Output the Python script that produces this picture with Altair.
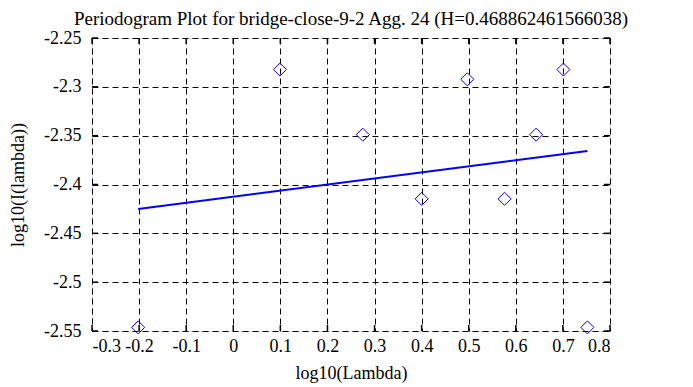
import altair as alt
import pandas as pd

# Periodogram points
lam_x = [-0.202, 0.099, 0.275, 0.400, 0.497, 0.576, 0.643, 0.701, 0.752]
lam_y = [-2.5463, -2.2823, -2.349, -2.4147, -2.2923, -2.4147, -2.349, -2.2823, -2.5463]

# Fitted line endpoints
fit_x = [-0.202, 0.752]
fit_y = [-2.425, -2.3657]

x_ticks = [-0.3, -0.2, -0.1, 0, 0.1, 0.2, 0.3, 0.4, 0.5, 0.6, 0.7, 0.8]
y_ticks = [-2.55, -2.5, -2.45, -2.4, -2.35, -2.3, -2.25]

title_text = ["Periodogram Plot for bridge-close-9-2 Agg. 24 (H=0.468862461566038)"]

FONT = "Liberation Serif"
FS = 18
W, H = 518, 293

pts = pd.DataFrame({"x": lam_x, "y": lam_y})
fit = pd.DataFrame({"x": fit_x, "y": fit_y})
xt = pd.DataFrame({"v": x_ticks})
yt = pd.DataFrame({"v": y_ticks})
tt = pd.DataFrame({"t": title_text})

xscale = alt.Scale(domain=[-0.3, 0.8], nice=False, zero=False)
yscale = alt.Scale(domain=[-2.55, -2.25], nice=False, zero=False)

xaxis = alt.Axis(values=x_ticks, grid=True, gridColor="black", gridDash=[6, 4], gridOpacity=1,
                 gridWidth=1, domain=False, ticks=False, labelPadding=6,
                 labelExpr="'' + datum.value", labelFont=FONT, labelFontSize=FS,
                 labelColor="black", title="log10(Lambda)", titleFont=FONT,
                 titleFontSize=FS, titleFontWeight="normal", titleColor="black",
                 titlePadding=9)
yaxis = alt.Axis(values=y_ticks, grid=True, gridColor="black", gridDash=[6, 4], gridOpacity=1,
                 gridWidth=1, domain=False, ticks=False, labelPadding=11,
                 labelExpr="'' + datum.value", labelFont=FONT, labelFontSize=FS,
                 labelColor="black", title="log10(I(lambda))", titleFont=FONT,
                 titleFontSize=FS, titleFontWeight="normal", titleColor="black",
                 titlePadding=16)

points = alt.Chart(pts).mark_point(shape="diamond", filled=False, color="blue",
                                   size=170, strokeWidth=1, opacity=1).encode(
    x=alt.X("x:Q", scale=xscale, axis=xaxis),
    y=alt.Y("y:Q", scale=yscale, axis=yaxis),
)

line = alt.Chart(fit).mark_line(color="blue", strokeWidth=2).encode(
    x=alt.X("x:Q", scale=xscale),
    y=alt.Y("y:Q", scale=yscale),
)

tick_len = 6
bottom_ticks = alt.Chart(xt).mark_rule(color="black", strokeWidth=1.5).encode(
    x=alt.X("v:Q", scale=xscale), y=alt.value(H), y2=alt.value(H - tick_len))
top_ticks = alt.Chart(xt).mark_rule(color="black", strokeWidth=1.5).encode(
    x=alt.X("v:Q", scale=xscale), y=alt.value(0), y2=alt.value(tick_len))
left_ticks = alt.Chart(yt).mark_rule(color="black", strokeWidth=1.5).encode(
    y=alt.Y("v:Q", scale=yscale), x=alt.value(0), x2=alt.value(tick_len))
right_ticks = alt.Chart(yt).mark_rule(color="black", strokeWidth=1.5).encode(
    y=alt.Y("v:Q", scale=yscale), x=alt.value(W), x2=alt.value(W - tick_len))

title = alt.Chart(tt).mark_text(font=FONT, fontSize=19, color="black", align="center",
                                baseline="alphabetic").encode(
    text="t:N", x=alt.value(W / 2), y=alt.value(-13))

chart = alt.layer(points, line, bottom_ticks, top_ticks, left_ticks, right_ticks, title).properties(
    width=W, height=H,
    autosize=alt.AutoSizeParams(type="none"),
    padding={"left": 84, "top": 30, "right": 75, "bottom": 56},
).configure_view(stroke="black", strokeWidth=2).configure(background="white")

chart.save("out.html", embed_options={"renderer": "svg", "actions": False})
